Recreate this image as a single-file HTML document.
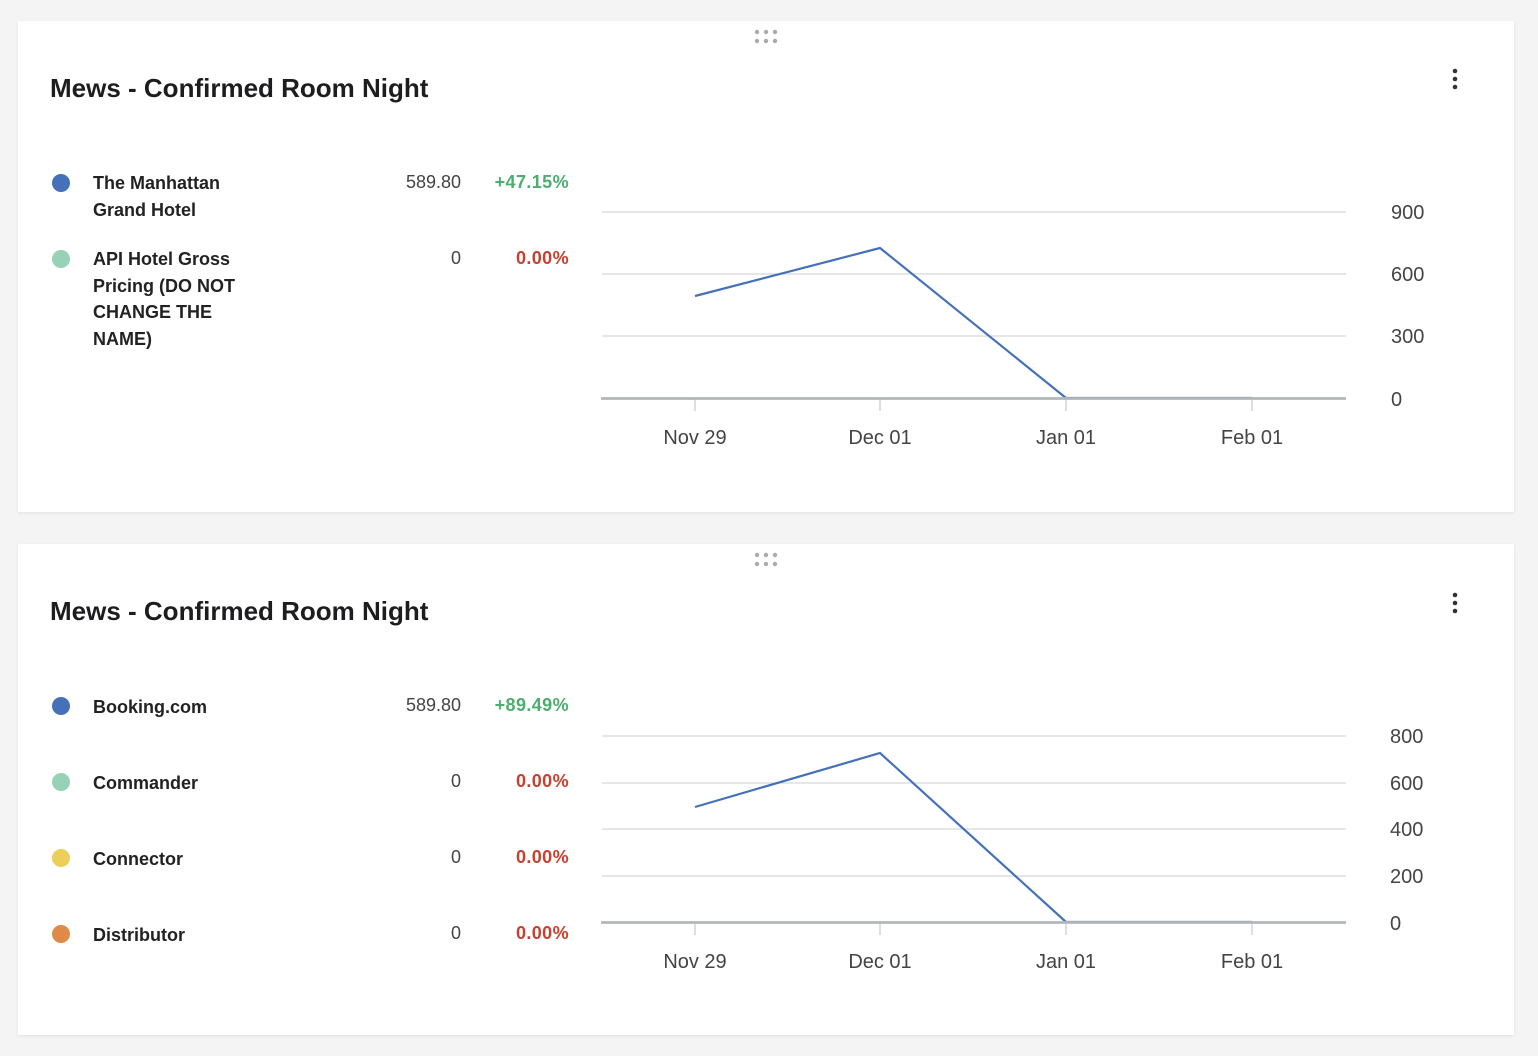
<!DOCTYPE html>
<html><head><meta charset="utf-8"><style>
body{margin:0;width:1538px;height:1056px;background:#f4f4f4;font-family:"Liberation Sans",sans-serif;position:relative;overflow:hidden}
.card{position:absolute;left:18px;width:1496px;height:491px;background:#fff;box-shadow:0 1px 3px rgba(0,0,0,.08)}
.t{position:absolute;white-space:nowrap}
.title{left:32px;font-size:26px;color:#1d1d1f;font-weight:bold}
.lab{left:75px;font-size:18px;color:#222;font-weight:bold;line-height:26.5px}
.dot{position:absolute;left:34px;width:18px;height:18px;border-radius:50%}
.val{right:1053px;font-size:18px;color:#444}
.pct{right:945px;font-size:18px;font-weight:bold;letter-spacing:0.4px}
.g{color:#4cae6e}.r{color:#c9402f}
svg{position:absolute;left:0;top:0}
.ax{font-size:20px;fill:#444;font-family:"Liberation Sans",sans-serif}
</style></head><body>
<div class="card" style="top:21px">
<div class="t title" style="top:52px">Mews - Confirmed Room Night</div>
<div class="dot" style="top:153px;background:#4471b8"></div>
<div class="t lab" style="top:169px;top:169px;top:149px">The Manhattan<br>Grand Hotel</div>
<div class="t val" style="top:151px">589.80</div><div class="t pct g" style="top:151px">+47.15%</div>
<div class="dot" style="top:229px;background:#97d1b6"></div>
<div class="t lab" style="top:225px">API Hotel Gross<br>Pricing (DO NOT<br>CHANGE THE<br>NAME)</div>
<div class="t val" style="top:227px">0</div><div class="t pct r" style="top:227px">0.00%</div>
</div>
<div class="card" style="top:544px">
<div class="t title" style="top:52px">Mews - Confirmed Room Night</div>
<div class="dot" style="top:153px;background:#4471b8"></div>
<div class="t lab" style="top:150px">Booking.com</div>
<div class="t val" style="top:151px">589.80</div><div class="t pct g" style="top:151px">+89.49%</div>
<div class="dot" style="top:229px;background:#97d1b6"></div>
<div class="t lab" style="top:226px">Commander</div>
<div class="t val" style="top:227px">0</div><div class="t pct r" style="top:227px">0.00%</div>
<div class="dot" style="top:305px;background:#eccf5a"></div>
<div class="t lab" style="top:302px">Connector</div>
<div class="t val" style="top:303px">0</div><div class="t pct r" style="top:303px">0.00%</div>
<div class="dot" style="top:381px;background:#e08a4a"></div>
<div class="t lab" style="top:378px">Distributor</div>
<div class="t val" style="top:379px">0</div><div class="t pct r" style="top:379px">0.00%</div>
</div>
<svg width="1538" height="1056">
<g fill="#aaa"><circle cx="757" cy="32" r="2.2"/><circle cx="766" cy="32" r="2.2"/><circle cx="775" cy="32" r="2.2"/><circle cx="757" cy="41" r="2.2"/><circle cx="766" cy="41" r="2.2"/><circle cx="775" cy="41" r="2.2"/>
<circle cx="757" cy="555" r="2.2"/><circle cx="766" cy="555" r="2.2"/><circle cx="775" cy="555" r="2.2"/><circle cx="757" cy="564" r="2.2"/><circle cx="766" cy="564" r="2.2"/><circle cx="775" cy="564" r="2.2"/></g>
<g fill="#333"><circle cx="1455" cy="71" r="2.3"/><circle cx="1455" cy="79" r="2.3"/><circle cx="1455" cy="87" r="2.3"/>
<circle cx="1455" cy="595" r="2.3"/><circle cx="1455" cy="603" r="2.3"/><circle cx="1455" cy="611" r="2.3"/></g>
<g stroke="#d5d8dd" stroke-width="1.3"><line x1="602" x2="1346" y1="212" y2="212"/><line x1="602" x2="1346" y1="274" y2="274"/><line x1="602" x2="1346" y1="336" y2="336"/>
<line x1="602" x2="1346" y1="736" y2="736"/><line x1="602" x2="1346" y1="783" y2="783"/><line x1="602" x2="1346" y1="829" y2="829"/><line x1="602" x2="1346" y1="876" y2="876"/></g>
<g stroke="#c8ccd0" stroke-width="1.3"><line x1="695" x2="695" y1="398" y2="411"/><line x1="880" x2="880" y1="398" y2="411"/><line x1="1066" x2="1066" y1="398" y2="411"/><line x1="1252" x2="1252" y1="398" y2="411"/>
<line x1="695" x2="695" y1="922" y2="935"/><line x1="880" x2="880" y1="922" y2="935"/><line x1="1066" x2="1066" y1="922" y2="935"/><line x1="1252" x2="1252" y1="922" y2="935"/></g>
<polyline points="695,296 880,248 1066,398 1252,398" fill="none" stroke="#4471b8" stroke-width="2.2"/>
<polyline points="695,807 880,753 1066,922 1252,922" fill="none" stroke="#4471b8" stroke-width="2.2"/>
<g stroke="#b3b7bb" stroke-width="2.8"><line x1="601" x2="1346" y1="398.5" y2="398.5"/><line x1="601" x2="1346" y1="922.5" y2="922.5"/></g>
<g class="ax" text-anchor="middle"><text x="695" y="444">Nov 29</text><text x="880" y="444">Dec 01</text><text x="1066" y="444">Jan 01</text><text x="1252" y="444">Feb 01</text>
<text x="695" y="968">Nov 29</text><text x="880" y="968">Dec 01</text><text x="1066" y="968">Jan 01</text><text x="1252" y="968">Feb 01</text></g>
<g class="ax"><text x="1391" y="219">900</text><text x="1391" y="281">600</text><text x="1391" y="343">300</text><text x="1391" y="406">0</text>
<text x="1390" y="743">800</text><text x="1390" y="790">600</text><text x="1390" y="836">400</text><text x="1390" y="883">200</text><text x="1390" y="930">0</text></g>
</svg>
</body></html>
